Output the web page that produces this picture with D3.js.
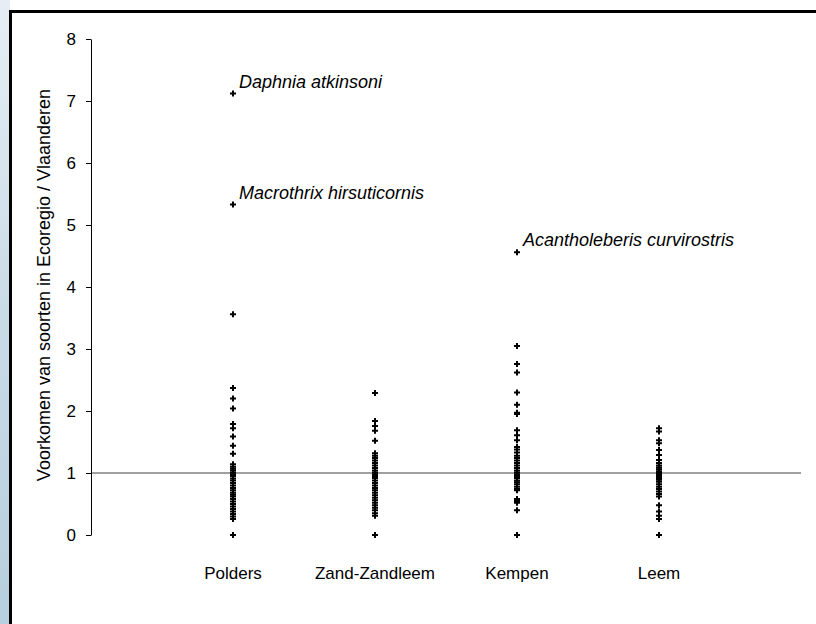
<!DOCTYPE html>
<html><head><meta charset="utf-8">
<script src="https://cdn.jsdelivr.net/npm/d3@7"></script>
<style>html,body{margin:0;padding:0;background:#fff;} svg{display:block;}</style>
</head><body>
<svg id="chart" width="816" height="624"></svg>
<script>
const categories = ["Polders", "Zand-Zandleem", "Kempen", "Leem"];
const poldersValues = [7.12, 5.33, 3.56, 2.37, 2.20, 2.04, 1.79, 1.72, 1.59, 1.44, 1.31, 1.14, 1.10, 1.07, 1.04, 1.01, 0.98, 0.95, 0.91, 0.88, 0.84, 0.80, 0.76, 0.72, 0.68, 0.65, 0.62, 0.58, 0.54, 0.50, 0.46, 0.42, 0.38, 0.34, 0.30, 0.26, 0.00];
const zandValues = [2.29, 1.84, 1.76, 1.68, 1.52, 1.32, 1.28, 1.24, 1.20, 1.16, 1.12, 1.08, 1.04, 1.01, 0.98, 0.95, 0.92, 0.88, 0.84, 0.80, 0.76, 0.72, 0.68, 0.64, 0.60, 0.56, 0.52, 0.48, 0.44, 0.40, 0.35, 0.31, 0.00];
const kempenValues = [4.56, 3.05, 2.76, 2.62, 2.30, 2.10, 1.97, 1.95, 1.69, 1.61, 1.53, 1.42, 1.38, 1.33, 1.28, 1.24, 1.20, 1.16, 1.12, 1.08, 1.04, 1.01, 0.98, 0.95, 0.92, 0.88, 0.85, 0.82, 0.78, 0.74, 0.72, 0.58, 0.55, 0.52, 0.40, 0.00];
const leemValues = [1.72, 1.67, 1.53, 1.48, 1.37, 1.29, 1.21, 1.16, 1.12, 1.09, 1.06, 1.03, 1.00, 0.98, 0.95, 0.92, 0.89, 0.86, 0.82, 0.78, 0.74, 0.70, 0.66, 0.62, 0.48, 0.38, 0.31, 0.26, 0.00];
const seriesValues = [poldersValues, zandValues, kempenValues, leemValues];
const yTicks = [0, 1, 2, 3, 4, 5, 6, 7, 8];
const referenceValue = 1;
const annotations = [
  {cat: "Polders", value: 7.12, label: "Daphnia atkinsoni"},
  {cat: "Polders", value: 5.33, label: "Macrothrix hirsuticornis"},
  {cat: "Kempen", value: 4.56, label: "Acantholeberis curvirostris"}
];
const yTitle = "Voorkomen van soorten in Ecoregio / Vlaanderen";
const FONT = "'Liberation Sans', Arial, sans-serif";

const svg = d3.select("#chart");
const defs = svg.append("defs");
const grad = defs.append("linearGradient").attr("id","bg").attr("x1",0).attr("y1",0).attr("x2",0).attr("y2",1);
grad.append("stop").attr("offset","0%").attr("stop-color","#e6eef4");
grad.append("stop").attr("offset","50%").attr("stop-color","#c9dbe7");
grad.append("stop").attr("offset","100%").attr("stop-color","#b7cede");
svg.append("rect").attr("x",0).attr("y",0).attr("width",10).attr("height",624).attr("fill","url(#bg)");
svg.append("rect").attr("x",10.5).attr("y",11.5).attr("width",816).attr("height",624)
  .attr("fill","#fff").attr("stroke","#000").attr("stroke-width",3);

const pLeft = 91, pRight = 801, pTop = 39, pBottom = 535;
const x = d3.scaleLinear().domain([0, categories.length + 1]).range([pLeft, pRight]);
const y = d3.scaleLinear().domain([0, 8]).range([pBottom, pTop]);
const xPos = c => x(categories.indexOf(c) + 1);

// reference line
svg.append("line").attr("x1", pLeft).attr("x2", pRight)
  .attr("y1", y(referenceValue)).attr("y2", y(referenceValue))
  .attr("stroke","#808080").attr("stroke-width",1.6);

// y axis
const yAxis = d3.axisLeft(y).tickValues(yTicks).tickSize(5).tickPadding(10).tickSizeOuter(0);
const ga = svg.append("g").attr("transform",`translate(${pLeft},0)`).call(yAxis);
ga.select(".domain").attr("stroke","#000").attr("stroke-width",1);
ga.selectAll(".tick line").attr("stroke","#000");
ga.selectAll(".tick text").attr("font-family",FONT).attr("font-size",17).attr("fill","#000");

svg.append("text").attr("transform",`translate(50,285) rotate(-90)`)
  .attr("text-anchor","middle").attr("font-family",FONT)
  .attr("font-size",18).attr("fill","#000").text(yTitle);

// category labels
svg.append("g").selectAll("text").data(categories).join("text")
  .attr("x", d => xPos(d)).attr("y", 579).attr("text-anchor","middle")
  .attr("font-family",FONT).attr("font-size",17).attr("fill","#000")
  .text(d => d);

// points
const pts = [];
categories.forEach((c, i) => seriesValues[i].forEach(v => pts.push({cat: c, value: v})));
svg.append("g").selectAll("path").data(pts).join("path")
  .attr("transform", d => `translate(${xPos(d.cat)},${y(d.value)})`)
  .attr("d", "M-3,0H3M0,-3V3").attr("stroke","#000").attr("stroke-width",2).attr("fill","none");

// annotations
svg.append("g").selectAll("text").data(annotations).join("text")
  .attr("x", d => xPos(d.cat) + 6).attr("y", d => y(d.value) - 6)
  .attr("font-family",FONT).attr("font-style","italic")
  .attr("font-size",18).attr("fill","#000").text(d => d.label);
</script>
</body></html>
